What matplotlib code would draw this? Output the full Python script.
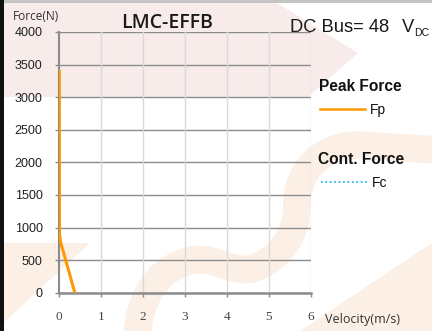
import matplotlib
matplotlib.use('Agg')
import matplotlib.pyplot as plt
from matplotlib.patches import Polygon, Rectangle, PathPatch
from matplotlib.path import Path
from matplotlib.lines import Line2D

# data
fp_velocity = [0.0, 0.005, 0.03, 0.37]
fp_force = [3420, 900, 780, 0]
fc_velocity = []
fc_force = []
x_ticks = [0, 1, 2, 3, 4, 5, 6]
y_ticks = [0, 500, 1000, 1500, 2000, 2500, 3000, 3500, 4000]

W, H = 432, 331

def px(points):
    # pixel coords -> figure fraction
    return [(x / W, 1 - y / H) for x, y in points]

fig = plt.figure(figsize=(W / 100, H / 100), dpi=100)
fig.patch.set_facecolor('white')

# faint watermark behind the chart
pink = '#f7ece9'
peach = '#fcf0e6'
fig.patches.append(Polygon(px([(0, 0), (272, 0), (358, 53), (308, 97), (0, 97)]),
                           closed=True, transform=fig.transFigure, fc=pink, ec='none', zorder=-5))
fig.patches.append(Polygon(px([(0, 243), (90, 243), (0, 326)]),
                           closed=True, transform=fig.transFigure, fc=peach, ec='none', zorder=-5))
fig.patches.append(Polygon(px([(300, 331), (432, 243), (432, 331)]),
                           closed=True, transform=fig.transFigure, fc=peach, ec='none', zorder=-5))
verts = px([(137, 335), (140, 300), (155, 268), (193, 260),
            (215, 256), (235, 275), (255, 268),
            (280, 258), (297, 235), (297, 205),
            (297, 170), (320, 148), (355, 145), (440, 150)])
codes = [Path.MOVETO] + [Path.CURVE4] * 12 + [Path.LINETO]
fig.patches.append(PathPatch(Path(verts, codes), transform=fig.transFigure, fc='none',
                             ec=peach, lw=20, capstyle='butt', joinstyle='round', zorder=-5))

# frame edges of the screenshot
fig.patches.append(Rectangle((0, 1 - 3 / H), 1, 3 / H, transform=fig.transFigure,
                             fc='#c4c4c4', ec='none', zorder=-4))
fig.patches.append(Rectangle((0, 0), 4 / W, 1, transform=fig.transFigure,
                             fc='#111111', ec='none', zorder=-4))

ax = fig.add_axes([59.3 / W, 1 - 292.7 / H, (310.7 - 59.3) / W, (292.7 - 32) / H])
ax.set_facecolor('none')
ax.set_xlim(0, 6)
ax.set_ylim(0, 4000)

for y in y_ticks:
    ax.axhline(y, color='#8c8c8c', lw=1, zorder=1)
for x in x_ticks[1:]:
    ax.axvline(x, color='#d9d9d9', lw=1, zorder=1)

ax.plot(fp_velocity, fp_force, color='#ff9900', lw=2.2, zorder=3, solid_capstyle='butt')
ax.plot(fc_velocity, fc_force, color='#00b0f0', lw=1.2, ls=':', zorder=3)

for s in ['top', 'right']:
    ax.spines[s].set_visible(False)
ax.spines['left'].set_color('#8c8c8c')
ax.spines['left'].set_linewidth(1.5)
ax.spines['bottom'].set_color('#8c8c8c')
ax.spines['bottom'].set_linewidth(1.8)

ax.set_xticks(x_ticks)
ax.set_yticks(y_ticks)
ax.tick_params(axis='y', length=3, width=1, color='#8c8c8c', pad=9, labelsize=9,
               labelfontfamily='Liberation Sans', labelcolor='#222222')
ax.tick_params(axis='x', length=3, width=1, color='#8c8c8c', pad=10, labelsize=9.5,
               labelfontfamily='Liberation Serif', labelcolor='#444444')

# texts
fig.text(13 / W, 1 - 17 / H, 'Force(N)', family='Open Sans', fontsize=8.6, color='#333333',
         ha='left', va='center')
fig.text(167 / W, 1 - 23 / H, 'LMC-EFFB', family='Open Sans', fontsize=14, fontweight='semibold',
         color='#1a1a1a', ha='center', va='center')
fig.text(290 / W, 1 - 32 / H, 'DC Bus= 48', family='Liberation Sans',
         fontsize=13.2, color='#1a1a1a', ha='left', va='baseline')
fig.text(402 / W, 1 - 32 / H, 'V', family='Liberation Sans',
         fontsize=13.2, color='#1a1a1a', ha='left', va='baseline')
fig.text(414 / W, 1 - 36 / H, 'DC', family='Liberation Sans',
         fontsize=7.6, color='#1a1a1a', ha='left', va='baseline')
fig.text(325 / W, 1 - 320 / H, 'Velocity(m/s)', family='Open Sans', fontsize=9, color='#333333',
         ha='left', va='center')

fig.text(319 / W, 1 - 86 / H, 'Peak Force', family='Liberation Sans', fontsize=11.2, fontweight='bold',
         color='#111111', ha='left', va='center')
fig.lines.append(Line2D([320 / W, 365 / W], [1 - 109 / H, 1 - 109 / H], transform=fig.transFigure,
                        color='#ff9900', lw=1.8))
fig.text(370 / W, 1 - 110 / H, 'Fp', family='Liberation Sans', fontsize=10, color='#111111',
         ha='left', va='center')

fig.text(318 / W, 1 - 160 / H, 'Cont. Force', family='Liberation Sans', fontsize=11.2, fontweight='bold',
         color='#111111', ha='left', va='center')
fig.lines.append(Line2D([321 / W, 367 / W], [1 - 182 / H, 1 - 182 / H], transform=fig.transFigure,
                        color='#00b0f0', lw=1.2, ls=':'))
fig.text(372 / W, 1 - 183 / H, 'Fc', family='Liberation Sans', fontsize=10, color='#111111',
         ha='left', va='center')

fig.savefig('out.png', dpi=100)
